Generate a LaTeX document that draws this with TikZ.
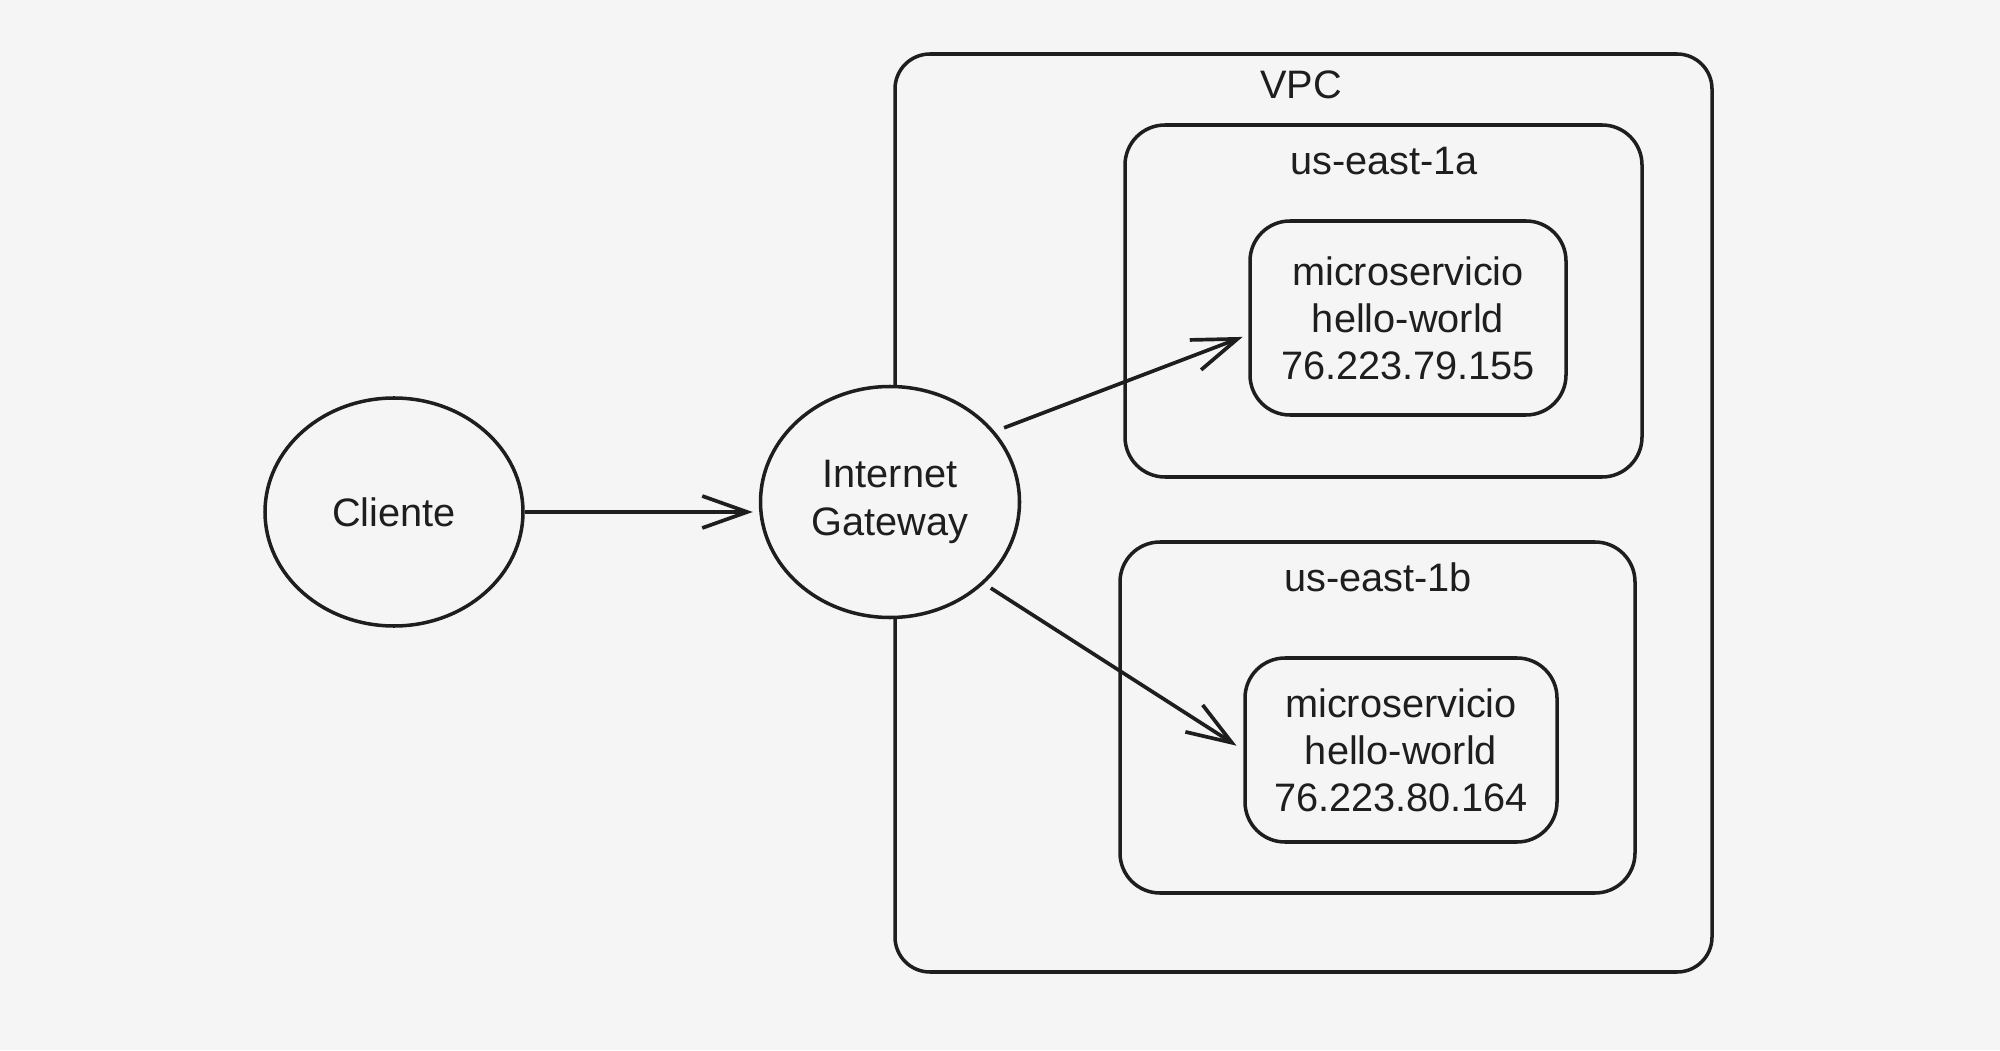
\documentclass[tikz,border=0pt]{standalone}
\usepackage{fontspec}
\setmainfont{Liberation Sans}
\usetikzlibrary{shapes.geometric, arrows.meta, positioning, calc}
\definecolor{paper}{RGB}{245, 245, 245}
\definecolor{ink}{RGB}{30, 30, 30}
\tikzset{
    txt/.style={font=\fontsize{11.3}{13.4}\selectfont, text=ink, align=center},
    zone/.style={rectangle, rounded corners=0.4cm, draw=ink, line width=1pt, inner sep=0pt},
    svc/.style={zone, txt},
    bubble/.style={ellipse, draw=ink, line width=1pt, fill=paper, txt, inner sep=0pt},
    arr/.style={-{Straight Barb[length=4.5mm, width=3.2mm]}, line width=1.05pt, ink}
}
\begin{document}
\begin{tikzpicture}
    \fill[paper] (0,0) rectangle (20,10.5);
    \useasboundingbox (0,0) rectangle (20,10.5);

    % VPC and zones
    \node[zone, rounded corners=0.35cm, minimum width=8.17cm, minimum height=9.18cm] (vpc) at (13.035,5.37) {};
    \node[txt] (vpclbl) at (13.01,9.65) {VPC};
    \node[zone, minimum width=5.17cm, minimum height=3.52cm] (az1) at (13.835,7.49) {};
    \node[txt] (az1lbl) at (13.84,8.89) {us-east-1a};
    \node[zone, minimum width=5.15cm, minimum height=3.51cm] (az2) at (13.775,3.325) {};
    \node[txt] (az2lbl) at (13.78,4.73) {us-east-1b};

    % services
    \node[svc, minimum width=3.16cm, minimum height=1.94cm] (ms1) at (14.08,7.32) {microservicio\\hello-world\\76.223.79.155};
    \node[svc, minimum width=3.12cm, minimum height=1.84cm] (ms2) at (14.01,3.00) {microservicio\\hello-world\\76.223.80.164};

    % client and gateway
    \node[bubble, minimum width=2.58cm, minimum height=2.28cm] (cliente) at (3.94,5.38) {Cliente};
    \node[bubble, minimum width=2.59cm, minimum height=2.31cm] (igw) at (8.90,5.48) {Internet\\Gateway};

    \draw[arr, shorten >=0.06cm] (cliente.east) -- (igw.west |- cliente.east);
    \draw[arr, shorten <=0.1cm, shorten >=0.06cm] (igw.34) -- (ms1.186);
    \draw[arr, shorten <=0.08cm, shorten >=0.08cm] (igw.-41) -- (ms2.west);
\end{tikzpicture}
\end{document}
